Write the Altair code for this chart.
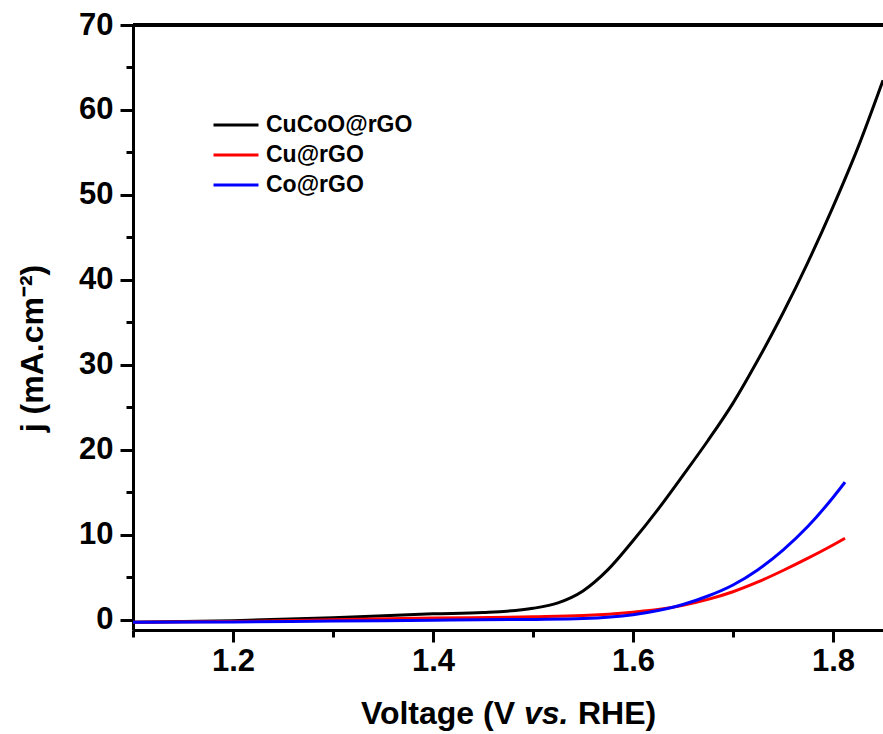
import altair as alt
import pandas as pd

voltage_cucoo = [1.10, 1.20, 1.30, 1.40, 1.45, 1.50, 1.525, 1.55, 1.575, 1.60, 1.625, 1.65, 1.675, 1.70, 1.725, 1.75, 1.775, 1.80, 1.825, 1.85]
j_cucoo = [-0.3, -0.1, 0.25, 0.7, 0.85, 1.35, 2.0, 3.4, 5.9, 9.3, 13.0, 17.0, 21.1, 25.5, 30.6, 36.1, 42.1, 48.6, 55.6, 63.5]

voltage_cu = [1.10, 1.20, 1.30, 1.40, 1.50, 1.55, 1.60, 1.625, 1.65, 1.675, 1.70, 1.725, 1.75, 1.775, 1.80, 1.812]
j_cu = [-0.3, -0.2, 0.0, 0.2, 0.35, 0.5, 0.9, 1.2, 1.7, 2.4, 3.3, 4.45, 5.8, 7.25, 8.8, 9.6]

voltage_co = [1.10, 1.20, 1.30, 1.40, 1.50, 1.55, 1.60, 1.625, 1.65, 1.675, 1.70, 1.725, 1.75, 1.775, 1.80, 1.812]
j_co = [-0.3, -0.25, -0.15, -0.05, 0.05, 0.15, 0.6, 1.1, 1.8, 2.8, 4.1, 5.9, 8.2, 11.0, 14.4, 16.2]

series_names = ["CuCoO@rGO", "Cu@rGO", "Co@rGO"]
series_colors = ["#000000", "#ff0000", "#0000ff"]

x_major = [1.2, 1.4, 1.6, 1.8]
x_minor = [1.1, 1.3, 1.5, 1.7]
y_major = [0, 10, 20, 30, 40, 50, 60, 70]
y_minor = [5, 15, 25, 35, 45, 55, 65]

x_title_parts = ["Voltage (V", "vs.", "RHE)"]

rows = []
for name, xs, ys in [(series_names[0], voltage_cucoo, j_cucoo),
                     (series_names[1], voltage_cu, j_cu),
                     (series_names[2], voltage_co, j_co)]:
    for i, (v, j) in enumerate(zip(xs, ys)):
        rows.append({"series": name, "V": v, "j": j, "order": i})
df = pd.DataFrame(rows)

FONT = "Liberation Sans"
W, H = 750, 605
TFS = 32  # axis title font size

xscale = alt.Scale(domain=[1.1, 1.85], zero=False, nice=False)
yscale = alt.Scale(domain=[-1.2, 70], zero=False, nice=False)

lines = alt.Chart(df).mark_line(strokeWidth=3, clip=True, interpolate="monotone").encode(
    x=alt.X("V:Q", scale=xscale, axis=alt.Axis(
        orient="bottom", values=x_major, format=".1f", tickSize=12, tickWidth=3,
        domainWidth=3, domainColor="black", tickColor="black", labelColor="black",
        labelFont=FONT, labelFontSize=31, labelFontWeight="bold", labelPadding=4,
        grid=False, title=None)),
    y=alt.Y("j:Q", scale=yscale, axis=alt.Axis(
        orient="left", values=y_major, tickSize=13, tickWidth=3, domainWidth=3,
        domainColor="black", tickColor="black", labelColor="black",
        labelFont=FONT, labelFontSize=31, labelFontWeight="bold", labelPadding=7,
        grid=False, title="j (mA.cm⁻²)", titleFont=FONT, titleFontSize=TFS,
        titleFontWeight="bold", titleColor="black", titleX=-84, titleY=323)),
    color=alt.Color("series:N", scale=alt.Scale(domain=series_names, range=series_colors),
                    legend=alt.Legend(
                        title=None, orient="none", legendX=79, legendY=90,
                        symbolType="stroke", symbolSize=2025, symbolStrokeWidth=3,
                        clipHeight=20, rowPadding=7, labelOffset=6, padding=0,
                        labelFont=FONT, labelFontSize=23, labelFontWeight="bold",
                        labelColor="black")),
    order="order:Q",
)

minor = alt.Chart(df).mark_line(opacity=0).encode(
    x=alt.X("V:Q", scale=xscale, axis=alt.Axis(
        orient="bottom", values=x_minor, tickSize=7, tickWidth=3, tickColor="black",
        labels=False, domain=False, grid=False, title=None)),
    y=alt.Y("j:Q", scale=yscale, axis=alt.Axis(
        orient="left", values=y_minor, tickSize=7, tickWidth=3, tickColor="black",
        labels=False, domain=False, grid=False, title=None)),
    detail="series:N",
)

top_border = alt.Chart(df).mark_rule(color="black", strokeWidth=3).encode(
    x=alt.value(0), x2=alt.value(W), y=alt.value(0)
)

# x-axis title with italic "vs." built from three text pieces
title_df = pd.DataFrame({"t": [0]})
VS_X = 391
TITLE_Y = 699
t1 = alt.Chart(title_df).mark_text(font=FONT, fontSize=TFS, fontWeight="bold", align="right",
                                   baseline="alphabetic", color="black").encode(
    x=alt.value(VS_X - 9), y=alt.value(TITLE_Y), text=alt.value(x_title_parts[0]))
t2 = alt.Chart(title_df).mark_text(font=FONT, fontSize=TFS, fontWeight="bold", fontStyle="italic",
                                   align="left", baseline="alphabetic", color="black").encode(
    x=alt.value(VS_X), y=alt.value(TITLE_Y), text=alt.value(x_title_parts[1]))
t3 = alt.Chart(title_df).mark_text(font=FONT, fontSize=TFS, fontWeight="bold", align="left",
                                   baseline="alphabetic", color="black").encode(
    x=alt.value(VS_X + 45 + 9), y=alt.value(TITLE_Y), text=alt.value(x_title_parts[2]))

chart = alt.layer(minor, lines, top_border, t1, t2, t3).resolve_axis(
    x="independent", y="independent"
).properties(
    width=W, height=H,
    autosize=alt.AutoSizeParams(type="none"),
    padding={"left": 133, "top": 25, "right": 0, "bottom": 104},
).configure_view(stroke=None).configure(background="white")

chart.save("out.html", embed_options={"renderer": "svg", "actions": False})
